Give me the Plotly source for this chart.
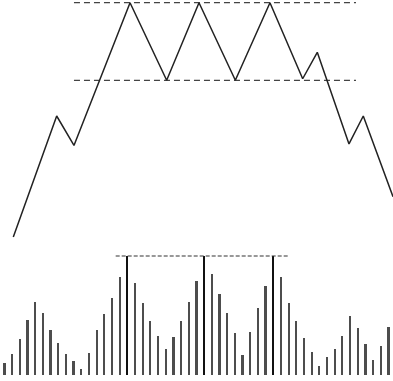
import plotly.graph_objects as go

# Price path (time index, price) of the triple-top pattern
price_t = [1.12, 6.77, 9.02, 16.32, 21.09, 25.30, 30.03, 34.54, 38.80, 40.70, 44.83, 46.69, 50.56]
price_v = [14.9, 22.7, 20.8, 30.0, 25.0, 30.0, 25.0, 30.0, 25.1, 26.8, 20.9, 22.7, 17.5]

# Resistance (tops) and support (neckline) levels
resistance = 30.0
support = 25.0
level_span = [9.02, 45.74]

# Volume per period
volume = [10.1, 17.6, 30.3, 46.2, 61.6, 52.1, 37.8, 26.9, 17.6, 11.8,
          5.0, 18.5, 37.8, 51.3, 64.7, 82.4, 100.0, 77.3, 60.5, 45.4,
          32.8, 21.8, 31.9, 45.4, 61.3, 79.0, 100.0, 84.9, 68.1, 52.1,
          35.3, 16.8, 36.1, 56.3, 74.8, 100.0, 82.4, 60.5, 45.4, 31.1,
          19.3, 7.6, 15.1, 21.8, 32.8, 49.6, 39.5, 26.1, 12.6, 24.4, 40.3]
volume_t = list(range(len(volume)))
peak_volume = 100.0
peak_span = [14.45, 37.1]

bar_colors = ["#111111" if v >= peak_volume else "#4d4d4d" for v in volume]

fig = go.Figure()

fig.add_trace(go.Bar(
    x=volume_t, y=volume, width=0.22,
    marker=dict(color=bar_colors, line=dict(width=0)),
    yaxis="y2", showlegend=False, hoverinfo="skip",
))

fig.add_trace(go.Scatter(
    x=peak_span, y=[peak_volume, peak_volume], mode="lines",
    line=dict(color="#333333", width=1.2, dash="4px,2px"),
    yaxis="y2", showlegend=False, hoverinfo="skip",
))

for lvl in (resistance, support):
    fig.add_trace(go.Scatter(
        x=level_span, y=[lvl, lvl], mode="lines",
        line=dict(color="#444444", width=1.2, dash="6px,4px"),
        showlegend=False, hoverinfo="skip",
    ))

fig.add_trace(go.Scatter(
    x=price_t, y=price_v, mode="lines",
    line=dict(color="#222222", width=1.5),
    showlegend=False, hoverinfo="skip",
))

fig.update_layout(
    width=393, height=381,
    margin=dict(l=0, r=0, t=0, b=0),
    paper_bgcolor="white", plot_bgcolor="white",
    bargap=0,
    xaxis=dict(range=[-0.612, 50.56], visible=False, showgrid=False, zeroline=False),
    yaxis=dict(range=[5.625, 30.174], visible=False, showgrid=False, zeroline=False),
    yaxis2=dict(range=[-5.0, 315.0], overlaying="y", visible=False,
                showgrid=False, zeroline=False),
)

fig.write_html("out.html")
